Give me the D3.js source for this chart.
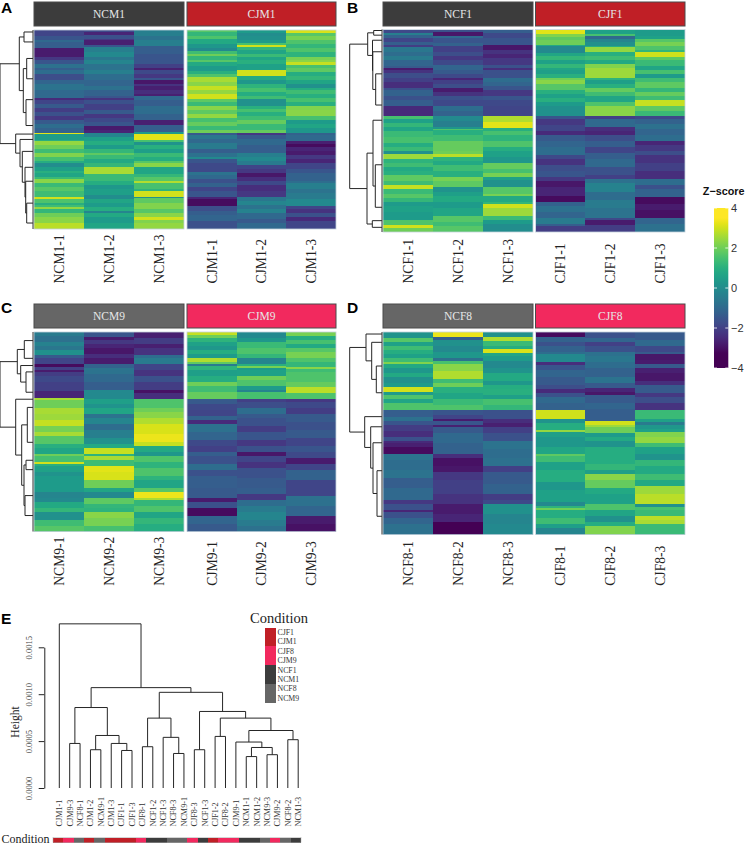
<!DOCTYPE html>
<html>
<head>
<meta charset="utf-8">
<script src="https://cdn.jsdelivr.net/npm/d3@7"></script>
<style>
  html, body { margin: 0; padding: 0; background: #fff; }
  svg { display: block; }
</style>
</head>
<body>
<svg id="chart" width="745" height="844"></svg>
<script>
// heatmap columns: each band is [row where it ends (0-100), z-score]
const NCM1_1 = [[3,-1.9],[5,-1.5],[6,-1],[9,-1.3],[13.5,-2.8],[15,-2.2],[17,-1.5],[19,-.8],[20,-1.3],[22,-.9],[25,-1.7],[27,-1.1],[30,-.7],[34,-1],[35,-2.5],[37,-1.9],[39,-1.4],[41,-2.1],[43,-1.6],[45,-2.2],[47,-1.4],[49,-.9],[51.7,-1.2],[52.4,3.2],[55.5,.4],[56,1],[58,2.4],[60,2],[62,1.4],[64,2.2],[66,1.5],[67,.9],[69,0],[71,.5],[72,1],[74,.7],[75,1.3],[77,2.3],[79,1.3],[81,1.7],[84,1.4],[84.8,3],[87,1.6],[88,1],[89,1.4],[90,2.4],[92,1.2],[94,2],[97,2.3],[100,2.8]];
const NCM1_2 = [[1,-1.8],[2.5,-2.6],[4.7,-1.6],[5,-2.2],[7.5,-2.7],[8.5,-1.5],[11,-.4],[13.5,-.1],[15,-.6],[17,-.2],[20,-.7],[22,-.4],[25,-.9],[28,-1.1],[30,-.8],[33,-1.2],[34,-1.5],[35,-2.3],[37,-1.6],[40,-2],[42,-1.4],[44,-2.2],[46,-1.8],[48,-1.5],[50,-2.8],[52,-2.6],[54,-.2],[56,.5],[58,.9],[60,.4],[62,1.2],[63,1.8],[65,1.3],[67,.8],[69,1.2],[72.5,2.6],[76,1.3],[78,.9],[80,.3],[83,.5],[85,0],[87,.7],[89,.4],[91,.9],[92,-.2],[94,.8],[97,.4],[100,.7]];
const NCM1_3 = [[3,-.4],[5,-.7],[8,-.4],[12,-1.3],[17,-1.5],[19,-2],[20,-2.7],[22,-1.8],[24,-2.2],[25,-1.5],[27,-2.9],[28,-2.3],[30,-2.7],[32,-2.4],[33,-2.7],[35,-1],[38,-1.3],[42,-.9],[45,-1.2],[47.5,-2.7],[51.5,-1.3],[52.5,.4],[55.5,3.2],[56.5,1.5],[58,.2],[60,1],[62,.5],[64,1.3],[66,.9],[67,1.7],[69,2.3],[72.5,.7],[74,1.2],[76,1.7],[77,2.7],[80,1.5],[81,1.1],[83.8,3],[84.5,.1],[87,1.8],[90,2.2],[92,1.7],[94,2.3],[95.5,3],[97,2.2],[100,2.4]];
const CJM1_1 = [[1,1.7],[3,1.2],[4.5,1.6],[7,.8],[9,.3],[10.5,-.1],[12,1.4],[13,2],[15,1.2],[16,1.7],[18,.8],[20.5,.4],[22,1],[23.5,1.6],[26,2.6],[28,2.3],[30,2.9],[32,2.4],[34.5,3],[36,1.8],[38,1.3],[40,2.3],[42,1.8],[44,2.4],[46,1.5],[48,1.9],[50,1.3],[51.7,2],[53,-1.4],[55,-.6],[57,-1],[60,-.5],[62,-1.3],[64,-.8],[65,-.1],[67,-1.5],[71.5,-1.8],[73,-.7],[75,-1],[77,-1.6],[79,-1.2],[81,-1.9],[84,-1.5],[85,-2.6],[88.5,-3.1],[91,-1.7],[93,-1.3],[96,-1.1],[100,-1.6]];
const CJM1_2 = [[1.5,.4],[3,0],[5,.1],[6.5,.4],[7.5,1.5],[8.4,3],[10,1.2],[12,.7],[13.5,1.3],[15,.7],[17,1],[20,.6],[20.3,.9],[23,3],[25,.8],[27,.3],[29,1.1],[31,1.5],[33,.9],[34.5,1.4],[38,.1],[39.5,1],[41,1.5],[43,1],[45,1.4],[47,1.9],[50,1.3],[51.7,1.9],[53,-2.2],[55,-1.4],[58,-1],[62,-1.3],[64,-.4],[66,-.1],[68,-.5],[70,-1.9],[72,-2.2],[74,-2.9],[76,-2.4],[78,-1.8],[81,-2.4],[84,-2.2],[86,-.6],[88,-.2],[90,-.7],[92,-.3],[95,-1],[97,-1.4],[100,-1]];
const CJM1_3 = [[1.5,3.1],[3,1.7],[5,2.1],[7,1.6],[9,1.2],[11,1.6],[13.5,1.1],[15,2.1],[16,2.3],[17.5,2.9],[19,1.5],[21,1.8],[23,.9],[25,1.2],[27,.7],[29,.1],[30,.9],[32,1.4],[34,1],[36,1.5],[38,1],[40,2.2],[43,2.3],[45,1.5],[47,.4],[49,.7],[51.7,.3],[53,-1.2],[56,-1],[57.5,-2.7],[59,-3.1],[61,-2.6],[63,-2.8],[65,-2.2],[67,-2.6],[70,-1.9],[72,-1.5],[76,-1.2],[77,-.9],[80,-.4],[82,-.7],[85,-.5],[88.5,-.1],[90,-1.9],[92,-2.3],[94,-1.6],[96,-2.5],[100,-1.9]];

const NCF1_1 = [[1.5,-1.8],[2.5,-.4],[4,-1.2],[6,-1.9],[7.5,-1.3],[8.5,-2.1],[11,-.6],[13,-.9],[15,-.5],[18,-1.1],[19,-1.4],[20,-2.8],[21.5,-2.3],[24,-1.7],[26,-2],[29,-2.4],[30,-1.6],[33,-1.2],[35,-1.6],[38,-1.3],[42.5,-2.5],[44,1.5],[46,.6],[48,1.2],[50,.7],[53,1.3],[56,1.5],[58,.9],[60,1.3],[61.5,.1],[64,2.5],[66,1.1],[68,1.4],[70,.8],[72,1],[75,1.8],[77,1.4],[79,2.9],[81,1.3],[83,1.7],[85,1.2],[87,.4],[90,.6],[94,.4],[96.4,1.6],[98,3],[100,2]];
const NCF1_2 = [[1,-1.6],[3,-2.9],[4,-1],[6.5,-1.5],[8,-1.2],[11,-2],[13,-1.7],[15,-2.2],[17.5,-1.8],[20,-1.1],[22,-1.4],[24,-1.8],[25,-2.6],[27,-2],[29,-1.7],[31,-2.8],[33,-2.3],[35,-1.6],[38,-1.8],[40,-.9],[42.5,-1.2],[45,-.1],[48,-.4],[49,.3],[49.5,1.6],[52,1],[55,1.4],[60,1.9],[61.5,2],[63,2.8],[65,1.1],[67,.8],[70,1.4],[73,1],[75,2.1],[78,1.8],[80,.2],[82,.5],[85,.8],[88,.4],[92,.7],[95,1.7],[97,1.4],[100,1.7]];
const NCF1_3 = [[1.5,-1.3],[4,-1.8],[7.5,-1.5],[10,-2.9],[12,-2.3],[14,-2.6],[17.5,-2.2],[19,-1.6],[20,-2.4],[24,-1.6],[26,-.9],[28,-1.1],[30,-1.5],[33,-2.2],[35,-1.5],[38,-1.8],[42.5,-1.9],[45.5,2.7],[48.5,3.2],[50,1],[52,1.5],[55,1.1],[58,1.6],[60,.9],[63,.6],[66,.3],[69,1.9],[71,1.5],[73,2.1],[74.5,.6],[78,.1],[81,1.7],[82,2.1],[85,.8],[86,1.2],[88,3],[92,2.5],[94,1.3],[96,.4],[100,0]];
const CJF1_1 = [[2,3.2],[3.5,2.2],[5,1.8],[7.5,2],[8,.8],[11.5,-.1],[13,.7],[15,1.2],[17,.6],[19,1.2],[20,.7],[22,.5],[24,1],[25,2],[27,2.3],[30,1.7],[32,1],[34,.6],[36,1],[38,.4],[42.5,.1],[44,-1.5],[47,-2.2],[50,-1.9],[52,-2.5],[55,-1.4],[58,-1.1],[62,-.9],[64,-1.8],[67,-2.3],[70,-1.7],[73,-1.5],[75,-2.2],[78,-2.9],[82,-2.6],[85,-3.1],[87,-1.2],[90,-.8],[93,-1.1],[96,-.5],[97,-1.3],[100,-2.1]];
const CJF1_2 = [[2,.6],[3.3,1.5],[4.5,-1],[6,-.2],[8,.1],[8.5,.9],[11,2.4],[13,1],[15,1.4],[17,.8],[19,2.2],[24,2.5],[25,1.1],[27,.5],[29,1],[31,1.9],[33,1.4],[36,.7],[38,1.6],[42.5,2.3],[44,-2],[48,-1],[50,-2.4],[52,-2.6],[55,-1.7],[58,-1.3],[61,-1.9],[64,-1.3],[68,-1],[72,-1.6],[74,-2],[76,-.8],[80,-.3],[84,-.9],[88,-.5],[93,-.7],[94,-1.8],[96.5,-2.8],[100,-2.1]];
const CJF1_3 = [[3,.4],[4.5,.6],[6,1.7],[8,2.1],[10,1.6],[11,1.2],[13.5,3],[15,1.8],[18,1.3],[20,.7],[22,1.5],[24,.4],[26,1.4],[29,1.8],[31,1.2],[33,1.9],[35,1.4],[38,2.9],[40,1.8],[42.5,1.3],[44,-1.8],[46.5,-1.2],[49,-.8],[52,-1.1],[55,-.9],[57,-2.6],[60,-2.2],[62,-1.7],[66,-2.3],[70,-2],[74,-2.4],[77,-.9],[79,-1.6],[82.5,-1.2],[86,-3.1],[89,-2.8],[93,-3],[96,-1.1],[100,-.8]];

const NCM9_1 = [[2,-.5],[5,-.8],[7,-.3],[9,-.6],[11.5,.1],[13,-1.4],[16,-1.9],[17.5,-3.1],[19,-2],[20,-2.8],[22,-2.1],[25,-1.8],[29.5,-2],[33,-2.6],[34,2.6],[38,2],[41,2.6],[44,2.5],[47,2.9],[50,2.1],[52,2.6],[56,1.7],[58,1],[61,.7],[62,2],[65,1.5],[66,3],[67,1],[70,.6],[72,.2],[80,.4],[83,-.2],[85,-.1],[88,.8],[90,1.2],[94,.1],[97,1.4],[100,1.7]];
const NCM9_2 = [[2.5,-1.5],[4,-2.8],[6,-2.2],[8,-2.6],[11,-2.9],[13,-2.4],[16,-2.8],[18,-1.2],[21,-.7],[25,-1],[29,-1.3],[33.5,-.1],[36,.5],[38,.2],[41,.7],[43,-.7],[46,-.2],[49,-.9],[53,-.4],[56,.1],[58,.8],[61,2.9],[62,1.1],[64,2.6],[67,1.4],[70,3.2],[74,3.1],[78,2],[80,.7],[83,-.1],[86,1.8],[88,1.2],[90,1.1],[93,2.3],[97,2.1],[100,1.5]];
const NCM9_3 = [[3,-2.7],[6,-2.1],[8,-2.7],[11.5,-2.3],[13,-.9],[16,-.5],[19,-1.9],[22,-2.3],[25,-1.6],[29,-2.1],[30.5,-3],[33.5,-2.4],[38,1.6],[40,2],[43,2.3],[46,2.7],[51,3.1],[55,3.3],[57,2.9],[60,.8],[62,.3],[65,1.6],[68,1.1],[72,1.6],[74,1.1],[78,.7],[80,1.7],[83,3.3],[84,2.6],[87,1.2],[90,1.6],[93,.7],[96,1.2],[100,.9]];
const CJM9_1 = [[1.5,2.9],[3,2],[5,1.1],[7,.6],[9,.3],[11,.9],[13,.4],[15,2.7],[16,1.8],[17,-.5],[19,1.1],[22,.5],[25,.9],[27,2],[30,1.4],[33.5,1.9],[36,-1.4],[39,-1.8],[42,-1.9],[44,-1.2],[46,-2.5],[50,-.8],[54,-1.1],[57,-1.8],[60,-2],[62,-1.3],[66,-1.6],[69,-.9],[72,-1.6],[78,-1.3],[83,-1.4],[85,-2.8],[88,-1.6],[92,-3.1],[96,-1.1],[100,-1.4]];
const CJM9_2 = [[3,-.1],[5,.3],[8,1.3],[11,1.6],[13,1.2],[16,-.2],[17,1],[18,2.1],[19,.4],[22,.6],[24,2],[27,1.6],[29,.4],[30,-.2],[33.5,1.5],[35,-2],[38,-1.7],[41,-.9],[43,-1.4],[47,-1.6],[50,-2.1],[54,-1.5],[57,-2.2],[60,-1.6],[62,-2.9],[65,-1.9],[68,-2.3],[73,-1.6],[78,-1.4],[81,-1.3],[84,-2.2],[87,-.9],[90,-.5],[94,-.2],[97,-.5],[100,-.8]];
const CJM9_3 = [[2,2.1],[4,.9],[6,1.5],[8,.8],[10,1.7],[13,2.1],[15,1.6],[17.3,1.2],[18.5,2.3],[20,1.4],[25,1.6],[27.5,1.9],[30.5,2.8],[33.5,1.6],[35,-2.2],[38,-1.8],[41,-2.1],[45,-1.4],[49,-1.6],[53,-1.4],[57,-1.9],[60,-1.5],[63,-1.8],[66,-2.8],[69,-1.9],[74,-1.2],[78,-1.9],[82,-1.9],[87,-.8],[92,-1.1],[96,-2.8],[100,-3]];

const NCF8_1 = [[3,.2],[5,1.7],[7,.6],[9,1.4],[11,.9],[13,.6],[15,1.4],[16,2.2],[18,.8],[20,.3],[22,.8],[25,.1],[27.3,.4],[29.6,3],[31,.4],[33,1.6],[35,.7],[38.5,1.6],[42,-1.3],[44,-.8],[46,-1.5],[49,-2.1],[52,-2.4],[54,-1.6],[55,-2.5],[57,-2.7],[60,-3.1],[63,-.7],[68,-.9],[72,-.7],[77,-1.3],[83,-1],[85,-2.2],[88,-1.6],[89,-2.6],[92,-1.6],[95,-1.1],[100,-.8]];
const NCF8_2 = [[2.5,3.3],[4,-1.3],[7,.1],[10,-.1],[13,.3],[14.5,-.8],[16,1.5],[19.5,2.3],[23,2.7],[25,1.4],[27.3,2],[30,1],[33,.7],[36,1.3],[38.5,1.6],[41,-1.5],[43,-1.9],[44,-2.8],[46,-1.5],[47,-2.7],[50,-1.4],[55,-1],[60,-1.2],[62,-2.4],[66,-3],[69,-2.9],[73,-2.2],[80,-2],[85,-2.3],[90,-2.8],[94,-2.6],[100,-3.4]];
const NCF8_3 = [[2.5,.1],[4.5,2.7],[7,1.3],[8.5,.9],[10.5,3.1],[12,.7],[14.5,.4],[18,-.1],[20,.2],[24,.8],[26,.3],[28,.9],[31,1],[33,.5],[36,1.5],[38.5,1.2],[43,-1.6],[45,-2.4],[47,-2.7],[50,-2],[54,-1.6],[58,-.7],[62,-.9],[66,-.8],[69,-2],[75,-1.4],[80,-1.2],[83,-2.1],[85,-1.8],[90,.1],[95,-.2],[100,-.1]];
const CJF8_1 = [[2.5,-3.1],[5,-1.2],[7,-1.6],[10,-1.2],[11,-.9],[15,-.1],[16.5,-2.4],[19,-1.5],[22,-1.1],[26,-1.4],[28,-1.7],[30,-2.5],[32,-1.6],[35,-1],[38.5,-1.2],[43.2,3],[45,.2],[48.5,.9],[49.5,2.4],[52,.5],[57,.3],[60,.7],[61,1.8],[64,1.4],[68,.6],[74,.9],[78,.3],[84,.6],[86,-.1],[87,1.1],[88,2],[92,.9],[95,1.4],[97,.5],[100,-.2]];
const CJF8_2 = [[3,-1.6],[5,-1.1],[7,-2],[10,-1.6],[12,-.8],[15,-.6],[18,-.9],[22,-1.2],[25,-.7],[27.5,-1.4],[29.5,-2.6],[31,-2.9],[35,-1.4],[38,-1.1],[44,-1.3],[46,3],[47,2.5],[50,2],[52,.4],[54,.8],[57,.2],[60,.9],[65,.9],[68,1.2],[70,.5],[73,2.3],[77,1.9],[80,.8],[85,.6],[88,1.6],[91,.7],[94,.1],[96,.9],[100,2.2]];
const CJF8_3 = [[4,-1.4],[7,-1],[10,-1.8],[11,-1.4],[14,-2.9],[16,-2.8],[18,-1.4],[20,-2.7],[24,-2.9],[26,-2.4],[30,-1.4],[32,-2.2],[35,-1.7],[38.5,-2.3],[43,1.3],[44.5,.6],[46,-.5],[48,.3],[49.5,.6],[52,2.2],[55,2.4],[57,1.4],[60,.6],[63,.2],[66,1.2],[70,.8],[73,1.4],[76,.8],[80,2.5],[85,2.8],[86.5,.1],[88,1.5],[91,1.3],[93,2.8],[95,2.6],[100,1.3]];

// row dendrograms: node = [height, child, child]; a bare number is a leaf at that row
const treeA = [33,[13.7,[9,1,6],[9.7,[6.3,14.3,24.5],[7,35,48]]],[17.3,52.3,[13,55,[10.7,61,[8,69,[7.3,76,[6.3,87,97]]]]]]];
const treeB = [32.3,[14.3,[8.3,.5,2.8],[9.5,5.3,[9.2,11,[6.3,21.9,37.3]]]],[15,[9,44.8,[6.7,66.8,87.8]],[9.7,94.4,97.7]]];
const treeC = [33,[15.7,[8.7,4.3,13.2],[12.3,16.8,[7,20,30.2]]],[17.3,33.7,[11.3,[5.7,37.8,55.3],[9,[7,64.3,69],[8,82,92]]]]];
const treeD = [32.3,[16,1,[10.3,5.1,[5.7,16.8,30]]],[17.3,41.8,[11.3,46.8,[9,54.7,[5,68.5,91]]]]];

const zTicks = [4, 2, 0, -2, -4];

// panel E: sample tree, leaf order as printed (left to right)
const sampleLeaves = ['CJM1-1','CJM9-3','NCF8-1','CJM1-2','NCM9-1','CJM1-3','CJF1-1','CJF1-3','CJF8-1','NCF1-2','NCF1-3','NCF8-3','NCM9-1','CJF8-3','NCF1-3','CJF1-2','CJF8-2','CJM9-1','NCM1-1','NCM1-2','NCM9-3','CJM9-2','NCF8-2','NCM1-3'];
const sampleTree = [0.00175,0,[0.00107,[0.000858,[0.000475,1,2],[0.00056,[0.000408,3,4],[0.000475,5,[0.0004,6,7]]]],[0.00102,[0.000745,[0.00044,8,9],[0.00054,10,[0.000368,11,12]]],[0.000816,[0.000408,13,14],[0.000745,[0.00055,15,16],[0.000613,[0.00049,17,[0.000432,[0.000335,18,19],[0.000355,20,21]]],[0.000515,22,23]]]]]]];
const heightTicks = [0, 0.0005, 0.001, 0.0015];

const conditionNames = ['CJF1','CJM1','CJF8','CJM9','NCF1','NCM1','NCF8','NCM9'];
const conditionColors = ['#c01f26','#c01f26','#f2295e','#f2295e','#3c3c3c','#3c3c3c','#666666','#666666'];

const serif = '"Liberation Serif", serif';
const sans = '"Liberation Sans", sans-serif';

const svg = d3.select('#chart');
const conditionColor = d3.scaleOrdinal(conditionNames, conditionColors);

// viridis saturates before the ends of the legend
const color = d3.scaleSequential(d3.interpolateViridis).domain([-3.3, 3.5]).clamp(true);

function drawTree(g, tree, x, y) {
  const lines = d3.path();
  const walk = node => {
    if (typeof node === 'number') return { h: 0, pos: y(node) };
    const a = walk(node[1]), b = walk(node[2]);
    const xn = x(node[0]);
    lines.moveTo(x(a.h), a.pos);
    lines.lineTo(xn, a.pos);
    lines.lineTo(xn, b.pos);
    lines.lineTo(x(b.h), b.pos);
    return { h: node[0], pos: (a.pos + b.pos) / 2 };
  };
  walk(tree);
  g.append('path').attr('d', lines.toString())
    .attr('fill', 'none').attr('stroke', '#262626').attr('stroke-width', 1);
}

function drawPanel(p) {
  const g = svg.append('g');
  const y = d3.scaleLinear().domain([0, 100]).range([p.top, p.bottom]);

  p.groups.forEach((grp, i) => {
    const x = d3.scaleBand().domain(grp.samples).range(grp.range);

    // strip above the heatmap
    g.append('rect')
      .attr('x', grp.range[0]).attr('y', p.stripY)
      .attr('width', grp.range[1] - grp.range[0]).attr('height', 24)
      .attr('fill', conditionColor(grp.name)).attr('stroke', '#4a4a4a').attr('stroke-width', 1);
    g.append('text')
      .attr('x', (grp.range[0] + grp.range[1]) / 2).attr('y', p.stripY + 16)
      .attr('text-anchor', 'middle').attr('font-family', serif).attr('font-size', 11.5)
      .attr('fill', '#e6e6e6').text(grp.name);

    grp.samples.forEach((s, j) => {
      const col = grp.columns[j];
      g.append('g').attr('shape-rendering', 'crispEdges')
        .selectAll('rect').data(col).join('rect')
        .attr('x', x(s)).attr('width', x.bandwidth())
        .attr('y', (d, k) => y(k ? col[k - 1][0] : 0))
        .attr('height', (d, k) => y(d[0]) - y(k ? col[k - 1][0] : 0))
        .attr('fill', d => color(d[1]));
      g.append('text')
        .attr('transform', `translate(${x(s) + x.bandwidth() / 2},${p.labelY}) rotate(-90)`)
        .attr('dy', '0.35em').attr('font-family', serif).attr('font-size', 13.6)
        .attr('fill', '#222').text(s);
    });

    g.append('rect')
      .attr('x', grp.range[0]).attr('y', p.top)
      .attr('width', grp.range[1] - grp.range[0]).attr('height', p.bottom - p.top)
      .attr('fill', 'none').attr('stroke', '#c3d2dc').attr('stroke-width', 0.8);
  });

  // dendrogram on the left of the heatmap
  const stem = p.groups[0].range[0] - 1;
  const xTree = d3.scaleLinear().domain([0, 33]).range([stem, stem - 33]);
  drawTree(g, p.tree, xTree, y);
  g.append('line')
    .attr('x1', stem).attr('x2', stem).attr('y1', p.top).attr('y2', p.bottom)
    .attr('stroke', '#333').attr('stroke-width', 1);

  g.append('text')
    .attr('x', p.letterX).attr('y', p.letterY)
    .attr('font-family', sans).attr('font-weight', 'bold').attr('font-size', 15.5)
    .attr('fill', '#000').text(p.letter);
}

drawPanel({
  letter: 'A', letterX: 1, letterY: 13, stripY: 2, top: 30, bottom: 229, labelY: 283.5, tree: treeA,
  groups: [
    { name: 'NCM1', range: [34, 184], samples: ['NCM1-1','NCM1-2','NCM1-3'], columns: [NCM1_1, NCM1_2, NCM1_3] },
    { name: 'CJM1', range: [187, 336], samples: ['CJM1-1','CJM1-2','CJM1-3'], columns: [CJM1_1, CJM1_2, CJM1_3] }
  ]
});
drawPanel({
  letter: 'B', letterX: 347, letterY: 13, stripY: 2, top: 29.5, bottom: 232, labelY: 283.5, tree: treeB,
  groups: [
    { name: 'NCF1', range: [383, 533], samples: ['NCF1-1','NCF1-2','NCF1-3'], columns: [NCF1_1, NCF1_2, NCF1_3] },
    { name: 'CJF1', range: [535.5, 685], samples: ['CJF1-1','CJF1-2','CJF1-3'], columns: [CJF1_1, CJF1_2, CJF1_3] }
  ]
});
drawPanel({
  letter: 'C', letterX: 1, letterY: 312.5, stripY: 304, top: 332, bottom: 531.5, labelY: 585.7, tree: treeC,
  groups: [
    { name: 'NCM9', range: [34, 184], samples: ['NCM9-1','NCM9-2','NCM9-3'], columns: [NCM9_1, NCM9_2, NCM9_3] },
    { name: 'CJM9', range: [187, 336], samples: ['CJM9-1','CJM9-2','CJM9-3'], columns: [CJM9_1, CJM9_2, CJM9_3] }
  ]
});
drawPanel({
  letter: 'D', letterX: 347, letterY: 312.5, stripY: 304, top: 332, bottom: 534.5, labelY: 585.7, tree: treeD,
  groups: [
    { name: 'NCF8', range: [383, 533], samples: ['NCF8-1','NCF8-2','NCF8-3'], columns: [NCF8_1, NCF8_2, NCF8_3] },
    { name: 'CJF8', range: [535.5, 685], samples: ['CJF8-1','CJF8-2','CJF8-3'], columns: [CJF8_1, CJF8_2, CJF8_3] }
  ]
});

// --- z-score legend ---
const yLegend = d3.scaleLinear().domain([4, -4]).range([208, 368]);
const defs = svg.append('defs');
const grad = defs.append('linearGradient').attr('id', 'zgrad')
  .attr('x1', 0).attr('x2', 0).attr('y1', 0).attr('y2', 1);
d3.range(4, -4.01, -0.25).forEach(z => {
  grad.append('stop').attr('offset', (4 - z) / 8).attr('stop-color', color(z));
});
svg.append('text')
  .attr('x', 744.5).attr('y', 195).attr('text-anchor', 'end')
  .attr('font-family', sans).attr('font-weight', 'bold').attr('font-size', 10.8)
  .attr('fill', '#111').text('Z\u2212score');
svg.append('rect')
  .attr('x', 714).attr('width', 14.3)
  .attr('y', yLegend(4)).attr('height', yLegend(-4) - yLegend(4))
  .attr('fill', 'url(#zgrad)');
zTicks.forEach(z => {
  [[714, 717], [725.3, 728.3]].forEach(([a, b]) => {
    svg.append('line')
      .attr('x1', a).attr('x2', b).attr('y1', yLegend(z)).attr('y2', yLegend(z))
      .attr('stroke', '#fff').attr('stroke-width', 0.8);
  });
  svg.append('text')
    .attr('x', 731).attr('y', yLegend(z)).attr('dy', '0.35em')
    .attr('font-family', sans).attr('font-size', 11).attr('fill', '#333')
    .text(d3.format('d')(z).replace('-', '\u2212'));
});

// --- panel E: sample clustering ---
const xLeaf = d3.scalePoint().domain(d3.range(sampleLeaves.length)).range([59.3, 298.2]);
const yHeight = d3.scaleLinear().domain([0, 0.0015]).range([788, 647.3]);
const gE = svg.append('g');

const walkE = d3.path();
(function walk(node) {
  if (typeof node === 'number') return { h: 0, pos: xLeaf(node) };
  const a = walk(node[1]), b = walk(node[2]);
  const yn = yHeight(node[0]);
  walkE.moveTo(a.pos, yHeight(a.h));
  walkE.lineTo(a.pos, yn);
  walkE.lineTo(b.pos, yn);
  walkE.lineTo(b.pos, yHeight(b.h));
  return { h: node[0], pos: (a.pos + b.pos) / 2 };
})(sampleTree);
gE.append('path').attr('d', walkE.toString())
  .attr('fill', 'none').attr('stroke', '#262626').attr('stroke-width', 1);

const axisE = d3.axisLeft(yHeight).tickValues(heightTicks)
  .tickFormat(d3.format('.4f')).tickSize(5.6).tickSizeOuter(0);
const axisG = gE.append('g').attr('transform', 'translate(44.3,0)').call(axisE);
axisG.selectAll('path,line').attr('stroke', '#222');
axisG.selectAll('text')
  .attr('transform', 'translate(-15.3,0) rotate(-90)')
  .attr('x', 0).attr('y', 0).attr('dy', '0.35em').attr('text-anchor', 'middle')
  .attr('font-family', serif).attr('font-size', 8.5).attr('fill', '#444');

gE.append('text')
  .attr('transform', 'translate(19,722) rotate(-90)')
  .attr('text-anchor', 'middle').attr('font-family', serif).attr('font-size', 11.5)
  .attr('fill', '#222').text('Height');

gE.selectAll('.leaf').data(sampleLeaves).join('text')
  .attr('class', 'leaf')
  .attr('transform', (d, i) => `translate(${xLeaf(i)},826.5) rotate(-90)`)
  .attr('dy', '0.35em').attr('font-family', serif).attr('font-size', 8.2)
  .attr('fill', '#333').text(d => d);

// condition strip along the bottom
const xStrip = d3.scaleBand().domain(d3.range(sampleLeaves.length)).range([53, 301]);
gE.append('g').attr('shape-rendering', 'crispEdges')
  .selectAll('rect').data(sampleLeaves).join('rect')
  .attr('x', (d, i) => xStrip(i)).attr('width', xStrip.bandwidth())
  .attr('y', 837.5).attr('height', 5)
  .attr('fill', d => conditionColor(d.split('-')[0]));
gE.append('rect').attr('x', 53).attr('y', 837.5).attr('width', 248).attr('height', 5)
  .attr('fill', 'none').attr('stroke', '#aaa').attr('stroke-width', 0.5);
gE.append('text').attr('x', 1.5).attr('y', 842.5)
  .attr('font-family', serif).attr('font-size', 12).attr('fill', '#222').text('Condition');

// condition key
const yKey = d3.scaleBand().domain(conditionNames).range([627.7, 702.7]);
gE.append('text').attr('x', 250).attr('y', 623)
  .attr('font-family', serif).attr('font-size', 14.5).attr('fill', '#222').text('Condition');
gE.append('g').attr('shape-rendering', 'crispEdges')
  .selectAll('rect').data(conditionNames).join('rect')
  .attr('x', 265).attr('width', 11)
  .attr('y', d => yKey(d)).attr('height', yKey.bandwidth())
  .attr('fill', d => conditionColor(d));
gE.selectAll('.key').data(conditionNames).join('text')
  .attr('class', 'key')
  .attr('x', 277.5).attr('y', d => yKey(d) + yKey.bandwidth() / 2).attr('dy', '0.35em')
  .attr('font-family', serif).attr('font-size', 7.8).attr('fill', '#333').text(d => d);

gE.append('text').attr('x', 1).attr('y', 624)
  .attr('font-family', sans).attr('font-weight', 'bold').attr('font-size', 15.5)
  .attr('fill', '#000').text('E');
</script>
</body>
</html>
